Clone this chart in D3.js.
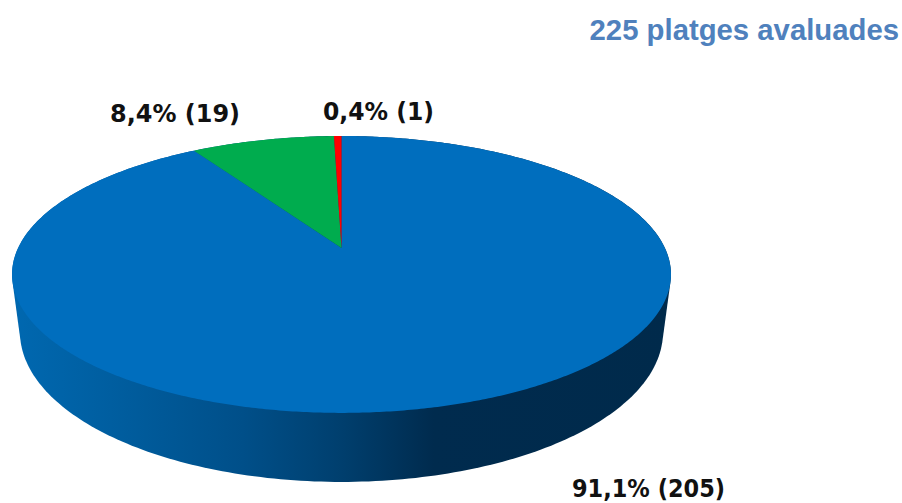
<!DOCTYPE html>
<html>
<head>
<meta charset="utf-8">
<script src="https://cdn.jsdelivr.net/npm/d3@7"></script>
<style>
  html, body { margin: 0; padding: 0; background: #fff; overflow: hidden; }
</style>
</head>
<body>
<script>
const title = "225 platges avaluades";
const categories = ["a", "b", "c"];
const counts = [205, 19, 1];
const colors = ["#006ebe", "#00ac4e", "#ff0000"];

const width = 902, height = 503;
const total = d3.sum(counts);
const pct = d3.formatLocale({decimal: ",", thousands: ".", grouping: [3], currency: ["", ""]}).format(".1f");

// perspective disc: same tilt for top face and bottom rim
const tilt = 0.191;
const topRim = {cx: 341.5, cy: 248, r: 323.4, s: 133.4};
const bottomRim = {cx: 341.5, cy: 303.3, r: 315.6, s: 144.5};

function project(rim, a) {
  const u = Math.sin(a), v = Math.cos(a), w = 1 + tilt * v;
  return [rim.cx + rim.r * u / w, rim.cy - rim.s * v / w];
}

const svg = d3.select("body").append("svg")
    .attr("width", width)
    .attr("height", height)
    .style("display", "block");

const grad = svg.append("defs").append("linearGradient")
    .attr("id", "wall")
    .attr("gradientUnits", "userSpaceOnUse")
    .attr("x1", 12).attr("x2", 671).attr("y1", 0).attr("y2", 0);
grad.selectAll("stop")
  .data([[0, "#0068b0"], [0.15, "#005ea0"], [0.35, "#004f89"], [0.5, "#003f6e"], [0.64, "#002b4e"], [1, "#002a4b"]])
  .join("stop")
    .attr("offset", d => d[0])
    .attr("stop-color", d => d[1]);

// side wall = hull of both rims, top face is painted over it
const angles = d3.range(0, 2 * Math.PI, Math.PI / 180);
const hull = d3.polygonHull(angles.flatMap(a => [project(topRim, a), project(bottomRim, a)]));
svg.append("path")
    .attr("d", "M" + hull.join("L") + "Z")
    .attr("fill", "url(#wall)");

const slices = d3.pie().sort(null)(counts);
const line = d3.line();

function slicePath(d) {
  const n = Math.max(2, Math.ceil((d.endAngle - d.startAngle) / (Math.PI / 360)));
  const pts = d3.range(n + 1).map(i => project(topRim, d.startAngle + (d.endAngle - d.startAngle) * i / n));
  return line([[topRim.cx, topRim.cy], ...pts]) + "Z";
}

svg.append("g").selectAll("path")
  .data(slices)
  .join("path")
    .attr("d", slicePath)
    .attr("fill", (d, i) => colors[i]);

// label spots and widths
const labelX = [572, 110, 323];
const labelY = [497, 122, 120];
const labelW = [153, 130, 111];

svg.append("g")
    .attr("font-family", "'DejaVu Sans', sans-serif")
    .attr("font-weight", "bold")
    .attr("font-size", 24)
    .attr("fill", "#111")
  .selectAll("text")
  .data(counts)
  .join("text")
    .attr("x", (d, i) => labelX[i])
    .attr("y", (d, i) => labelY[i])
    .attr("textLength", (d, i) => labelW[i])
    .attr("lengthAdjust", "spacingAndGlyphs")
    .text(d => `${pct(d / total * 100)}% (${d})`);

svg.append("text")
    .attr("x", 899)
    .attr("y", 40)
    .attr("text-anchor", "end")
    .attr("font-family", "'Liberation Sans', Arial, sans-serif")
    .attr("font-weight", "bold")
    .attr("font-size", 29.3)
    .attr("fill", "#4f81bd")
    .text(title);
</script>
</body>
</html>
